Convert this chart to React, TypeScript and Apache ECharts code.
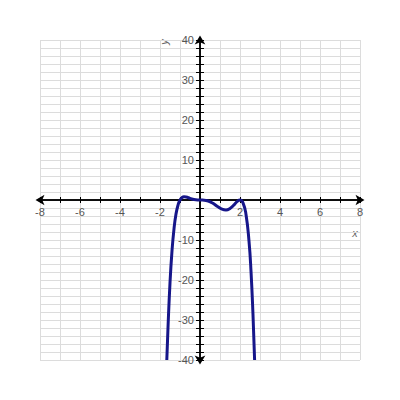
import React, { useEffect, useRef } from 'react';
import * as echarts from 'echarts';
import type { EChartsOption } from 'echarts';

// points (x, y)
const curveX = [
  -1.66, -1.6, -1.5, -1.4, -1.3, -1.2, -1.1, -1.0, -0.9, -0.8, -0.7, -0.5, -0.3, 0,
  0.3, 0.6, 0.9, 1.1, 1.3, 1.5, 1.7, 1.85, 2.0, 2.15, 2.3, 2.45, 2.55, 2.65, 2.73,
];
const curveY = [
  -40, -31.9, -20.7, -12.7, -7.2, -3.5, -1.3, 0, 0.6, 0.8, 0.75, 0.4, 0.1, 0,
  -0.1, -0.7, -1.7, -2.3, -2.5, -2.1, -1.2, -0.4, 0, -0.7, -3.6, -10.3, -17.8, -28.7, -40,
];

const xRange = [-8, 8];
const yRange = [-40, 40];
const xLabels = [-8, -6, -4, -2, 2, 4, 6, 8];
const yLabels = [-40, -30, -20, -10, 10, 20, 30, 40];

const labelStyle = { color: '#555', fontSize: 11, fontFamily: 'Liberation Sans, Arial, sans-serif' };

const App: React.FC = () => {
  const chartRef = useRef<HTMLDivElement>(null);

  useEffect(() => {
    if (!chartRef.current) return;
    const chart = echarts.init(chartRef.current, undefined, { renderer: 'svg' });

    // axes sit in the middle of the 320px plot (zero is at the centre of both ranges)
    const mid = -160;
    const axisLine = { onZero: false, lineStyle: { color: '#000', width: 1.5 } };
    const arrows = { symbol: ['arrow', 'arrow'], symbolSize: [8, 9], symbolOffset: [-4.5, 4.5] };

    const option: EChartsOption = {
      animation: false,
      backgroundColor: '#fff',
      grid: { left: 40, right: 40, top: 40, bottom: 40 },
      xAxis: [
        {
          type: 'value',
          min: xRange[0],
          max: xRange[1],
          interval: 1,
          position: 'bottom',
          offset: mid,
          axisLine: { ...axisLine, ...arrows },
          axisTick: { length: 3, lineStyle: { color: '#000' } },
          axisLabel: {
            ...labelStyle,
            margin: 6,
            formatter: (v: number) => (xLabels.includes(v) ? String(v) : ''),
          },
          splitLine: { lineStyle: { color: '#dcdcdc', width: 1 } },
        },
        {
          type: 'value',
          min: xRange[0],
          max: xRange[1],
          interval: 1,
          position: 'top',
          offset: mid,
          axisLine,
          axisTick: { length: 3, lineStyle: { color: '#000' } },
          axisLabel: { show: false },
          splitLine: { show: false },
        },
      ],
      yAxis: [
        {
          type: 'value',
          min: yRange[0],
          max: yRange[1],
          interval: 2,
          position: 'left',
          offset: mid,
          axisLine: { ...axisLine, ...arrows },
          axisTick: { length: 4, lineStyle: { color: '#000' } },
          axisLabel: {
            ...labelStyle,
            margin: 6,
            formatter: (v: number) => (yLabels.includes(v) ? String(v) : ''),
          },
          splitLine: { lineStyle: { color: '#dcdcdc', width: 1 } },
        },
        {
          type: 'value',
          min: yRange[0],
          max: yRange[1],
          interval: 2,
          position: 'right',
          offset: mid,
          axisLine,
          axisTick: { length: 4, lineStyle: { color: '#000' } },
          axisLabel: { show: false },
          splitLine: { show: false },
        },
      ],
      graphic: [
        {
          type: 'text',
          x: 164,
          y: 42,
          rotation: Math.PI / 2,
          style: { text: 'y', fill: '#666', font: 'italic 11px Liberation Sans, Arial, sans-serif', align: 'center', verticalAlign: 'middle' },
        },
        {
          type: 'text',
          x: 355,
          y: 233,
          style: { text: 'x', fill: '#666', font: 'italic 11px Liberation Sans, Arial, sans-serif', align: 'center', verticalAlign: 'middle' },
        },
      ],
      series: [
        {
          type: 'line',
          data: curveX.map((x, i) => [x, curveY[i]]),
          smooth: true,
          showSymbol: false,
          clip: true,
          lineStyle: { color: '#16168a', width: 3 },
          z: 5,
        },
      ],
    };

    chart.setOption(option);
    return () => chart.dispose();
  }, []);

  return (
    <div
      ref={chartRef}
      style={{ position: 'fixed', left: 0, top: 0, width: '400px', height: '400px' }}
    />
  );
};

export default App;
